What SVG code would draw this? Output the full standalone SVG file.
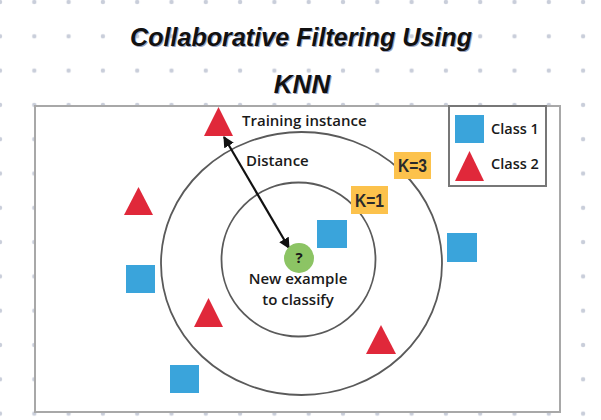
<svg xmlns="http://www.w3.org/2000/svg" width="601" height="420" viewBox="0 0 601 420">
<defs>
  <pattern id="dots" x="0" y="2" width="34.3" height="34.3" patternUnits="userSpaceOnUse">
    <circle cx="0" cy="0" r="2.2" fill="#c9ceda"/>
    <circle cx="34.3" cy="0" r="2.2" fill="#c9ceda"/>
    <circle cx="0" cy="34.3" r="2.2" fill="#c9ceda"/>
    <circle cx="34.3" cy="34.3" r="2.2" fill="#c9ceda"/>
  </pattern>
  <marker id="ah" viewBox="0 0 10 10" refX="9" refY="5" markerWidth="5" markerHeight="5" orient="auto-start-reverse">
    <path d="M0,0 L10,5 L0,10 z" fill="#111"/>
  </marker>
  <style>
    .title{font-family:"Liberation Sans",Arial,sans-serif;font-weight:bold;font-style:italic;font-size:26px;fill:#111;}
    .shadow{fill:#9aa4c0;}
    .lbl{font-family:"Open Sans","Liberation Sans",sans-serif;font-weight:600;font-size:15px;fill:#1a1a1a;}
    .leg{font-size:14.5px;}
    .k{font-family:"Liberation Sans Narrow","Liberation Sans",sans-serif;font-weight:bold;font-size:18px;fill:#2a2a2a;}
    .tri{fill:#e0283a;}
    .sq{fill:#3aa4db;}
    .ring{fill:none;stroke:#5a5a5a;stroke-width:1.8;}
    .kbox{fill:#fcc24c;}
  </style>
</defs>
<rect x="0" y="0" width="601" height="420" fill="#fff"/>
<rect x="0" y="0" width="601" height="420" fill="url(#dots)"/>

<g id="title">
  <text class="title shadow" x="302" y="47" text-anchor="middle" textLength="342" lengthAdjust="spacingAndGlyphs">Collaborative Filtering Using</text>
  <text class="title" x="301" y="46" text-anchor="middle" textLength="342" lengthAdjust="spacingAndGlyphs">Collaborative Filtering Using</text>
  <text class="title shadow" x="303" y="94" text-anchor="middle">KNN</text>
  <text class="title" x="302" y="93" text-anchor="middle">KNN</text>
</g>

<g id="frame">
  <rect x="35" y="106" width="525" height="306" fill="#fff" stroke="#a8a8a8" stroke-width="2"/>
</g>

<g id="rings">
  <ellipse id="k3-ring" class="ring" cx="301.5" cy="263.5" rx="140.5" ry="131.5"/>
  <circle id="k1-ring" class="ring" cx="298.5" cy="259.5" r="77"/>
</g>

<g id="connectors">
  <line x1="224" y1="137" x2="289" y2="248" stroke="#111" stroke-width="2.2" marker-start="url(#ah)" marker-end="url(#ah)"/>
</g>

<g id="training-instance">
  <polygon class="tri" points="218.5,107 204,136 233,136"/>
  <text class="lbl" x="242" y="126">Training instance</text>
</g>
<text id="distance-label" class="lbl" x="246" y="166">Distance</text>

<g id="new-example">
  <circle cx="299" cy="258" r="15" fill="#8cc464"/>
  <text class="lbl" x="299" y="263" text-anchor="middle" style="font-weight:bold">?</text>
  <text class="lbl" x="298" y="284" text-anchor="middle">New example</text>
  <text class="lbl" x="298" y="305" text-anchor="middle">to classify</text>
</g>

<g id="k3">
  <rect class="kbox" x="394" y="152" width="37" height="27"/>
  <text class="k" x="412.5" y="172" text-anchor="middle" textLength="29" lengthAdjust="spacingAndGlyphs">K=3</text>
</g>
<g id="k1">
  <rect class="kbox" x="351" y="186" width="37" height="28"/>
  <text class="k" x="369.5" y="206.5" text-anchor="middle" textLength="29" lengthAdjust="spacingAndGlyphs">K=1</text>
</g>

<g id="class2-points">
  <polygon class="tri" points="138.5,187 124,215 153,215"/>
  <polygon class="tri" points="208.5,298 194,327 223,327"/>
  <polygon class="tri" points="381,325 366,354 396,354"/>
</g>
<g id="class1-points">
  <rect class="sq" x="317" y="220" width="30" height="28"/>
  <rect class="sq" x="447" y="233" width="30" height="29"/>
  <rect class="sq" x="126" y="265" width="29" height="28"/>
  <rect class="sq" x="170" y="365" width="29" height="28"/>
</g>

<g id="legend">
  <rect x="449" y="106" width="97" height="80" fill="#fff" stroke="#777" stroke-width="2"/>
  <rect class="sq" x="455" y="115" width="29" height="28"/>
  <text class="lbl leg" x="491" y="134">Class 1</text>
  <polygon class="tri" points="469.5,151 455,181 484,181"/>
  <text class="lbl leg" x="491" y="169">Class 2</text>
</g>
</svg>
